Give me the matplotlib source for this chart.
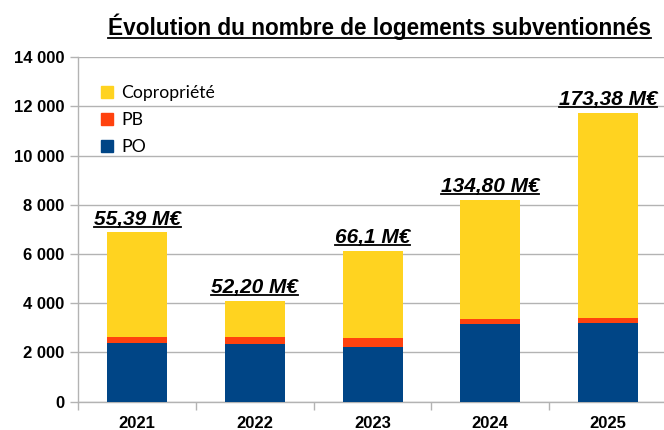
import numpy as np
import matplotlib
matplotlib.use("Agg")
from matplotlib import pyplot as plt
from matplotlib.lines import Line2D
from matplotlib.patches import Patch

years = ["2021", "2022", "2023", "2024", "2025"]
po = [2390, 2345, 2220, 3150, 3190]
pb = [245, 285, 370, 210, 210]
copro = [4240, 1475, 3535, 4840, 8350]
montants = ["55,39 M€", "52,20 M€", "66,1 M€", "134,80 M€", "173,38 M€"]
yticks = [0, 2000, 4000, 6000, 8000, 10000, 12000, 14000]
ytick_labels = ["0", "2 000", "4 000", "6 000", "8 000", "10 000", "12 000", "14 000"]
title = "Évolution du nombre de logements subventionnés"

c_po = "#004586"
c_pb = "#ff420e"
c_copro = "#ffd320"
grey = "#b3b3b3"

plt.rcParams["font.family"] = ["Liberation Sans", "DejaVu Sans"]

fig = plt.figure(figsize=(6.64, 4.30), dpi=100)
ax = fig.add_axes([0.118, 0.066, 0.886, 0.801])

x = np.arange(len(years))
w = 0.51
po_a = np.array(po)
pb_a = np.array(pb)
co_a = np.array(copro)
ax.bar(x, po_a, w, color=c_po, zorder=3)
ax.bar(x, pb_a, w, bottom=po_a, color=c_pb, zorder=3)
ax.bar(x, co_a, w, bottom=po_a + pb_a, color=c_copro, zorder=3)
totals = po_a + pb_a + co_a

ax.set_ylim(0, 14000)
ax.set_xlim(-0.5, 4.48)
ax.set_yticks(yticks, ytick_labels)
ax.set_xticks(x, years)
ax.set_xticks(np.arange(-0.5, 4.6, 1.0), minor=True)
ax.tick_params(axis="x", which="major", length=0, pad=10)
ax.tick_params(axis="x", which="minor", length=6, color=grey, width=1)
ax.tick_params(axis="y", length=6, color=grey, width=1, pad=4)
for lab in ax.get_xticklabels() + ax.get_yticklabels():
    lab.set_fontweight("bold")
    lab.set_fontsize(12)
ax.grid(axis="y", color=grey, linewidth=1, zorder=0)
for s in ["top", "right"]:
    ax.spines[s].set_visible(False)
for s in ["left", "bottom"]:
    ax.spines[s].set_color(grey)
    ax.spines[s].set_linewidth(1)

off = 5.7
underlined = []
for xi, t, lab in zip(x, totals, montants):
    txt = ax.annotate(lab, (xi, t), xytext=(0, off), textcoords="offset points",
                      ha="center", va="baseline", fontsize=15,
                      fontweight="bold", fontstyle="italic", zorder=4)
    underlined.append(txt)

ttl = fig.text(0.572, 0.918, title, ha="center", va="baseline",
               fontsize=16.3, fontweight="bold")
underlined.append(ttl)

handles = [Patch(color=c_copro), Patch(color=c_pb), Patch(color=c_po)]
leg = ax.legend(handles, ["Copropriété", "PB", "PO"], loc="upper left",
                bbox_to_anchor=(0.012, 0.965), frameon=False,
                prop={"family": ["Lato", "DejaVu Sans"], "size": 12.7},
                handlelength=0.65, handleheight=0.65, handletextpad=0.5,
                labelspacing=0.62)

# underline the texts (matplotlib has no underline option)
fig.canvas.draw()
r = fig.canvas.get_renderer()
for txt in underlined:
    bb = txt.get_window_extent(r)
    fs = txt.get_fontsize() * fig.dpi / 72
    if txt is ttl:
        base = fig.transFigure.transform(txt.get_position())[1]
    else:
        base = ax.transData.transform(txt.xy)[1] + off * fig.dpi / 72
    yline = base - 0.1 * fs
    x0, x1 = fig.transFigure.inverted().transform([[bb.x0, yline], [bb.x1, yline]])
    fig.add_artist(Line2D([x0[0], x1[0]], [x0[1], x1[1]],
                          transform=fig.transFigure, color="black",
                          linewidth=1.3))

fig.savefig("out.png", dpi=100)
